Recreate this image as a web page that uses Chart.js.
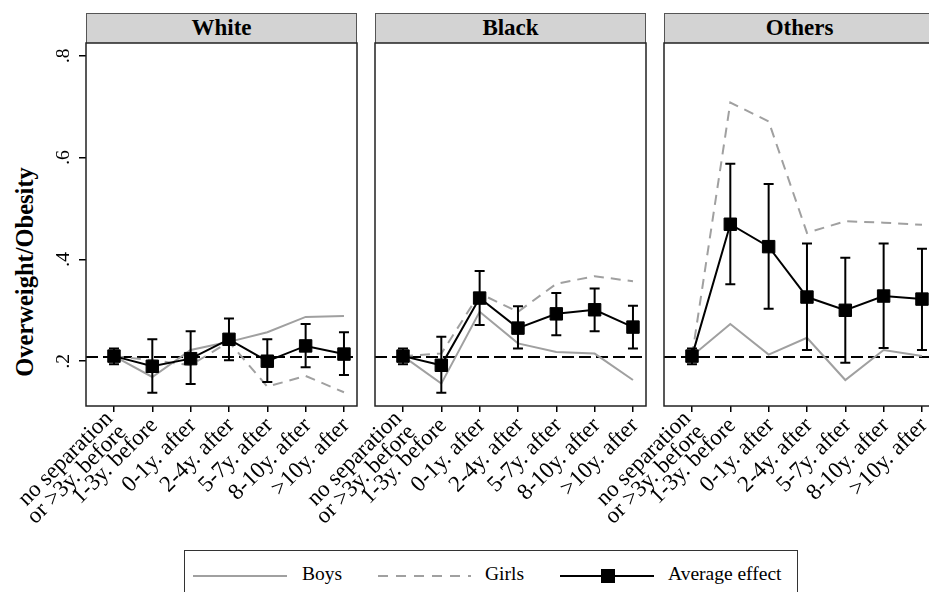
<!DOCTYPE html>
<html lang="en">
<head>
    <meta charset="UTF-8">
    <title>Overweight/Obesity by race</title>
    <style>
        html, body { margin: 0; padding: 0; background: #fff; }
        body { width: 929px; height: 592px; overflow: hidden; position: relative; font-family: 'Liberation Serif', 'Times New Roman', serif; }
        canvas { position: absolute; }
        .header {
            position: absolute; top: 13px; height: 30px; width: 271px; box-sizing: border-box;
            background: #d3d3d3; border: 1.5px solid #555; border-bottom: none;
            text-align: center; font-weight: bold; font-size: 23px; line-height: 28px;
        }
        .ytitle {
            position: absolute; left: 25px; top: 272px; white-space: nowrap;
            transform: translate(-50%, -50%) rotate(-90deg);
            font-weight: bold; font-size: 24.5px;
        }
        .legend {
            position: absolute; left: 184px; top: 550px; width: 614px; height: 70px;
            box-sizing: border-box; border: 1.5px solid #333;
        }
        .legend .sample { position: absolute; top: 24px; height: 2px; }
        .legend .txt { position: absolute; top: 11px; font-size: 19.5px; line-height: 24px; }
    </style>
</head>
<body>
    <div class="ytitle">Overweight/Obesity</div>
    <div class="legend">
        <div class="sample" style="left:8px;width:94px;background:#a0a0a0"></div>
        <div class="txt" style="left:117px">Boys</div>
        <div class="sample" style="left:193px;width:93px;background:repeating-linear-gradient(90deg,#a0a0a0 0 10px,transparent 10px 18px)"></div>
        <div class="txt" style="left:300px">Girls</div>
        <div class="sample" style="left:375px;width:94px;background:#000"></div>
        <div style="position:absolute;left:416px;top:18px;width:14px;height:14px;background:#000"></div>
        <div class="txt" style="left:483px">Average effect</div>
    </div>

    <script src="https://cdn.jsdelivr.net/npm/chart.js"></script>
    <script>
        // categories on the x axis
        const xLabels = [
            ['no separation', 'or >3y. before'],
            '1-3y. before', '0-1y. after', '2-4y. after',
            '5-7y. after', '8-10y. after', '>10y. after'
        ];
        const groups = ['White', 'Black', 'Others'];
        const yTicks = [0.2, 0.4, 0.6, 0.8];
        const yTickLabels = ['.2', '.4', '.6', '.8'];
        const refValue = 0.208; // dashed reference line (no separation level)

        // White
        const whiteAvg   = [0.210, 0.190, 0.205, 0.243, 0.200, 0.230, 0.214];
        const whiteLo    = [0.194, 0.138, 0.155, 0.202, 0.159, 0.188, 0.173];
        const whiteHi    = [0.225, 0.243, 0.259, 0.284, 0.243, 0.273, 0.257];
        const whiteBoys  = [0.210, 0.169, 0.222, 0.238, 0.257, 0.287, 0.289];
        const whiteGirls = [0.210, 0.202, 0.192, 0.238, 0.150, 0.171, 0.139];
        // Black
        const blackAvg   = [0.210, 0.192, 0.324, 0.265, 0.293, 0.301, 0.267];
        const blackLo    = [0.194, 0.138, 0.271, 0.225, 0.251, 0.259, 0.225];
        const blackHi    = [0.225, 0.248, 0.377, 0.308, 0.334, 0.343, 0.309];
        const blackBoys  = [0.210, 0.156, 0.297, 0.235, 0.218, 0.215, 0.163];
        const blackGirls = [0.210, 0.215, 0.333, 0.297, 0.352, 0.367, 0.357];
        // Others
        const otherAvg   = [0.210, 0.469, 0.425, 0.326, 0.300, 0.328, 0.322];
        const otherLo    = [0.194, 0.351, 0.303, 0.222, 0.197, 0.226, 0.222];
        const otherHi    = [0.225, 0.588, 0.548, 0.431, 0.403, 0.431, 0.421];
        const otherBoys  = [0.210, 0.273, 0.213, 0.246, 0.163, 0.222, 0.210];
        const otherGirls = [0.210, 0.708, 0.671, 0.452, 0.475, 0.472, 0.468];

        const panels = [
            { avg: whiteAvg, lo: whiteLo, hi: whiteHi, boys: whiteBoys, girls: whiteGirls },
            { avg: blackAvg, lo: blackLo, hi: blackHi, boys: blackBoys, girls: blackGirls },
            { avg: otherAvg, lo: otherLo, hi: otherHi, boys: otherBoys, girls: otherGirls }
        ];

        const fontFamily = "'Liberation Serif', 'Times New Roman', serif";
        Chart.defaults.font.family = fontFamily;
        Chart.defaults.color = '#000';

        const panelLeft = [86, 375, 664];
        const axisRoom = 90;
        const gray = '#a0a0a0';

        const toPoints = arr => arr.map((v, i) => ({ x: i, y: v }));

        // panel frame + dashed reference line
        const framePlugin = {
            id: 'frame',
            beforeDatasetsDraw(chart) {
                const { ctx, chartArea: a, scales } = chart;
                const y = scales.y.getPixelForValue(refValue);
                ctx.save();
                ctx.strokeStyle = '#000';
                ctx.lineWidth = 2;
                ctx.setLineDash([12, 5]);
                ctx.beginPath();
                ctx.moveTo(a.left, y);
                ctx.lineTo(a.right, y);
                ctx.stroke();
                ctx.restore();
            },
            afterDraw(chart) {
                const { ctx, chartArea: a } = chart;
                ctx.save();
                ctx.strokeStyle = '#222';
                ctx.lineWidth = 1.5;
                ctx.strokeRect(a.left, a.top, a.right - a.left, a.bottom - a.top);
                ctx.restore();
            }
        };

        // x labels at 45 degrees, multi-line labels centred on the tick (Stata style)
        const xLabelPlugin = {
            id: 'xlabels',
            afterDraw(chart) {
                const { ctx, chartArea: a, scales } = chart;
                const lh = 19;
                ctx.save();
                ctx.font = '23px ' + fontFamily;
                ctx.fillStyle = '#000';
                ctx.textAlign = 'right';
                ctx.textBaseline = 'middle';
                xLabels.forEach((label, i) => {
                    const lines = Array.isArray(label) ? label : [label];
                    const x = scales.x.getPixelForValue(i);
                    ctx.save();
                    ctx.translate(x + 2, a.bottom + 16);
                    ctx.rotate(-Math.PI / 4);
                    lines.forEach((line, j) => {
                        ctx.fillText(line, 0, (j - (lines.length - 1) / 2) * lh);
                    });
                    ctx.restore();
                });
                ctx.restore();
            }
        };

        function errorBarPlugin(p) {
            return {
                id: 'errbars',
                afterDatasetsDraw(chart) {
                    const { ctx, scales } = chart;
                    ctx.save();
                    ctx.strokeStyle = '#000';
                    ctx.lineWidth = 2;
                    p.lo.forEach((lo, i) => {
                        const x = scales.x.getPixelForValue(i);
                        const y1 = scales.y.getPixelForValue(lo);
                        const y2 = scales.y.getPixelForValue(p.hi[i]);
                        ctx.beginPath();
                        ctx.moveTo(x, y1); ctx.lineTo(x, y2);
                        ctx.moveTo(x - 5, y1); ctx.lineTo(x + 5, y1);
                        ctx.moveTo(x - 5, y2); ctx.lineTo(x + 5, y2);
                        ctx.stroke();
                    });
                    ctx.restore();
                }
            };
        }

        panels.forEach((p, k) => {
            const head = document.createElement('div');
            head.className = 'header';
            head.style.left = panelLeft[k] + 'px';
            head.textContent = groups[k];
            document.body.appendChild(head);

            const canvas = document.createElement('canvas');
            canvas.width = axisRoom + 271 + 10;
            canvas.height = 513;
            canvas.style.left = (panelLeft[k] - axisRoom) + 'px';
            canvas.style.top = '23px';
            document.body.appendChild(canvas);

            new Chart(canvas.getContext('2d'), {
                type: 'line',
                data: {
                    datasets: [
                        {
                            label: 'Average effect', data: toPoints(p.avg),
                            borderColor: '#000', borderWidth: 2, backgroundColor: '#000',
                            pointStyle: 'rect', pointRadius: 8.8, pointBorderWidth: 1, order: 0
                        },
                        {
                            label: 'Girls', data: toPoints(p.girls),
                            borderColor: gray, borderWidth: 2, borderDash: [10, 7],
                            pointRadius: 0, order: 1
                        },
                        {
                            label: 'Boys', data: toPoints(p.boys),
                            borderColor: gray, borderWidth: 2,
                            pointRadius: 0, order: 2
                        }
                    ]
                },
                options: {
                    responsive: false,
                    animation: false,
                    events: [],
                    layout: { padding: { top: 20, right: 10, left: 0, bottom: 0 } },
                    plugins: { legend: { display: false }, tooltip: { enabled: false } },
                    scales: {
                        x: {
                            type: 'linear', min: -0.73, max: 6.34,
                            afterBuildTicks: s => { s.ticks = xLabels.map((l, i) => ({ value: i })); },
                            afterFit: s => { s.height = 130; },
                            ticks: { display: false },
                            grid: { drawOnChartArea: false, tickLength: 6, color: '#000', lineWidth: 1.5 },
                            border: { display: false }
                        },
                        y: {
                            type: 'linear', min: 0.112, max: 0.825,
                            afterBuildTicks: s => { s.ticks = yTicks.map(v => ({ value: v })); },
                            afterFit: s => { s.width = axisRoom; },
                            ticks: {
                                display: k === 0, minRotation: 90, maxRotation: 90,
                                crossAlign: 'center', padding: 8, font: { size: 19.5 },
                                callback: v => yTickLabels[yTicks.indexOf(v)]
                            },
                            grid: { display: k === 0, drawOnChartArea: false, tickLength: 7, color: '#000', lineWidth: 1.5 },
                            border: { display: false }
                        }
                    }
                },
                plugins: [framePlugin, errorBarPlugin(p), xLabelPlugin]
            });
        });
    </script>
</body>
</html>
